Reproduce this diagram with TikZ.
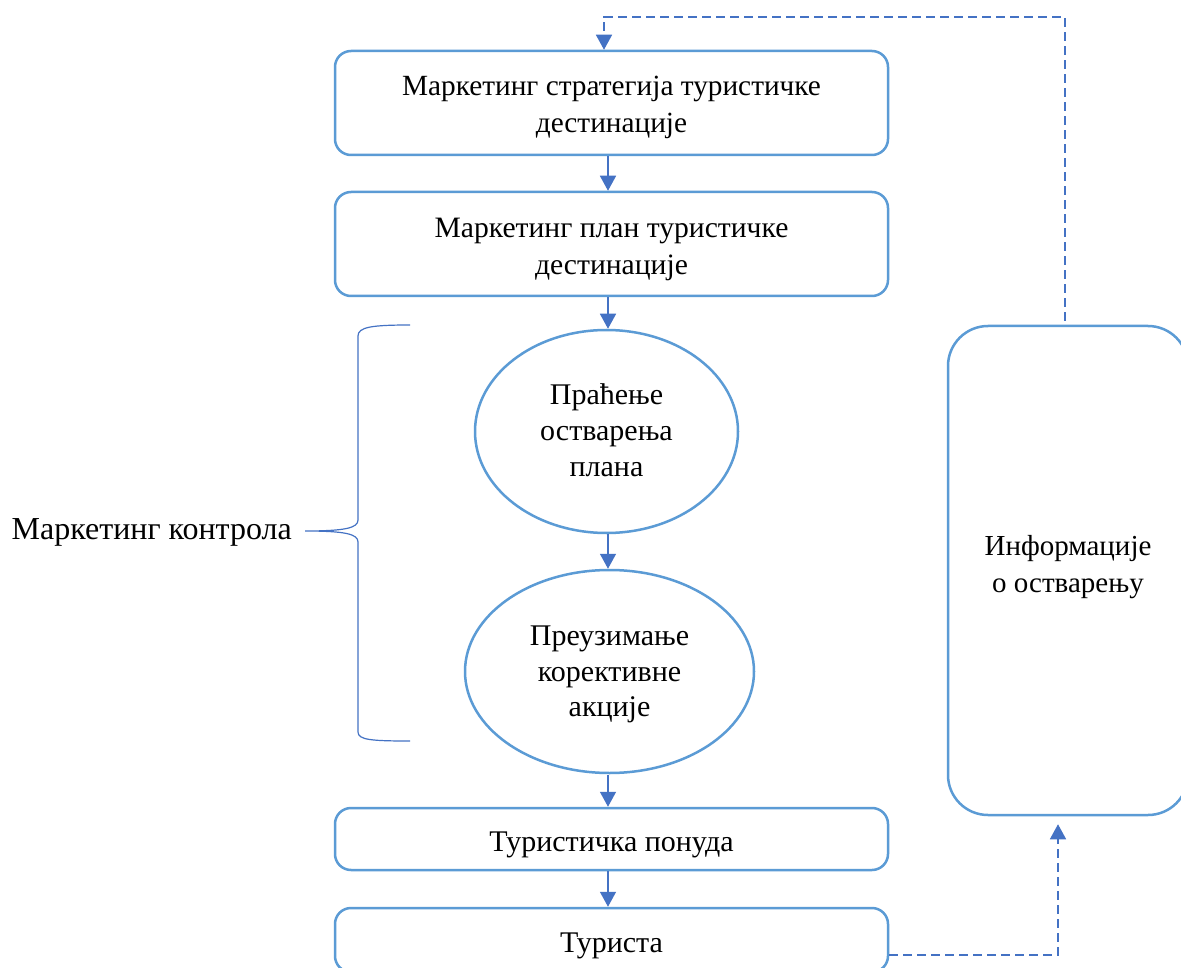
\documentclass[tikz,border=0pt]{standalone}
\usepackage{fontspec}
\setmainfont{Liberation Serif}
\usetikzlibrary{arrows.meta,shapes.geometric,calc}
\definecolor{boxblue}{HTML}{5B9BD5}
\definecolor{lineblue}{HTML}{4472C4}
\tikzset{
  box/.style={draw=boxblue, line width=2.5pt, rounded corners=16pt, minimum width=553pt, inner sep=0pt},
  oval/.style={draw=boxblue, line width=2.5pt, ellipse, inner sep=0pt},
  txt/.style={align=center, inner sep=0pt, font=\fontsize{30}{37}\selectfont},
  arr/.style={draw=lineblue, line width=1.5pt, -{Triangle[width=16pt,length=15pt]}},
  dsh/.style={draw=lineblue, line width=1.5pt, dash pattern=on 9pt off 5pt, -{Triangle[width=16pt,length=15pt]}},
  brace/.style={draw=lineblue, line width=1.2pt}
}
\begin{document}
\begin{tikzpicture}[x=1pt,y=-1pt]
\clip (0,0) rectangle (1181,968);
\fill[white] (0,0) rectangle (1181,968);
\node[box, minimum height=104pt] (b1) at (611.5,103) {};
\node[txt, font=\fontsize{29.3}{37}\selectfont] (b1t) at (611.5,107.5) {Маркетинг стратегија туристичке\\дестинације};
\node[box, minimum height=104pt] (b2) at (611.5,244) {};
\node[txt, font=\fontsize{29.6}{37}\selectfont] (b2t) at (611.5,249) {Маркетинг план туристичке\\дестинације};
\node[oval, minimum width=263pt, minimum height=203pt] (e1) at (606.5,431.5) {};
\node[txt, font=\fontsize{30}{36}\selectfont] (e1t) at (606.5,430.5) {Праћење\\остварења\\плана};
\node[oval, minimum width=289pt, minimum height=203pt] (e2) at (609.5,671.5) {};
\node[txt, font=\fontsize{30}{35.5}\selectfont] (e2t) at (609.5,674.5) {Преузимање\\корективне\\акције};
\node[box, minimum height=62pt] (b3) at (611.5,839) {};
\node[txt] (b3t) at (611.5,845) {Туристичка понуда};
\node[box, minimum height=64pt] (b4) at (611.5,940) {};
\node[txt] (b4t) at (611.5,946) {Туриста};
\node[draw=boxblue, line width=2.5pt, rounded corners=40pt, minimum width=240pt, minimum height=489pt, inner sep=0pt] (r) at (1068,570.5) {};
\node[txt, font=\fontsize{29}{37}\selectfont] (rt) at (1068,567) {Информације\\о остварењу};
\node[txt, anchor=east, font=\fontsize{32}{37}\selectfont] (mk) at (292,532) {Маркетинг контрола};
% vertical connectors
\coordinate (ax) at (608,0);
\draw[arr] (b1.south -| ax) -- (b2.north -| ax);
\draw[arr] (b2.south -| ax) -- (e1.north -| ax);
\draw[arr] (e1.south -| ax) -- (e2.north -| ax);
\draw[arr] ([yshift=-1pt]e2.south -| ax) -- (b3.north -| ax);
\draw[arr] (b3.south -| ax) -- (b4.north -| ax);
% dashed feedback
\coordinate (t1) at (1065,17);
\coordinate (t2) at (604,17);
\draw[dsh] ([yshift=4pt]r.north -| t1) -- (t1) -- (t2) -- (t2 |- b1.north);
\coordinate (c1) at (1058,955);
\draw[dsh, shorten >=8pt] (b4.east |- c1) -- (c1) -- (c1 |- r.south);
% brace
\coordinate (bt) at (410,325);
\coordinate (bm) at (305,531);
\coordinate (bb) at (410,741);
\draw[brace] (bt) .. controls (372,325) and (358,327) .. (358,336) -- (358,520)
  .. controls (358,528) and (345,531) .. (bm)
  .. controls (345,531) and (358,534) .. (358,542) -- (358,732)
  .. controls (358,740) and (372,741) .. (bb);
\end{tikzpicture}
\end{document}
